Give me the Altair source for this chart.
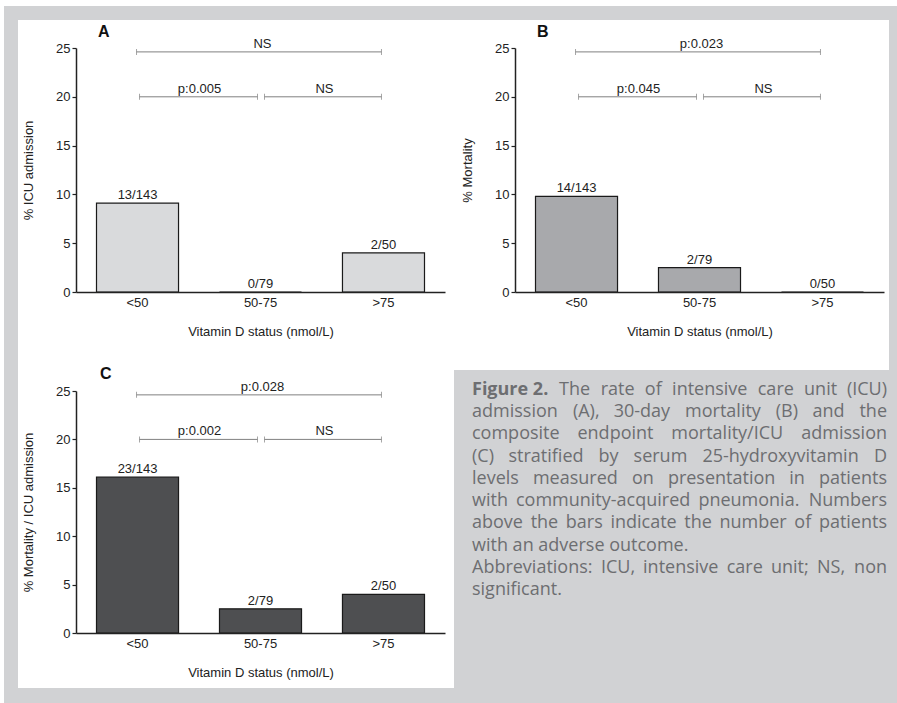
import altair as alt
import pandas as pd

# ---------------- data ----------------
categories = ["<50", "50-75", ">75"]

icu_pct = [9.1, 0.0, 4.0]
icu_counts = ["13/143", "0/79", "2/50"]

mort_pct = [9.8, 2.5, 0.0]
mort_counts = ["14/143", "2/79", "0/50"]

comp_pct = [16.1, 2.5, 4.0]
comp_counts = ["23/143", "2/79", "2/50"]

bracket_from = ["<50", "<50", "50-75"]
bracket_to = [">75", "50-75", ">75"]
bracket_level = [24.6, 20.0, 20.0]
labels_a = ["NS", "p:0.005", "NS"]
labels_b = ["p:0.023", "p:0.045", "NS"]
labels_c = ["p:0.028", "p:0.002", "NS"]

caption_bold = "Figure 2."
caption_lines = [
    "The rate of intensive care unit (ICU)",
    "admission (A), 30-day mortality (B) and the",
    "composite endpoint mortality/ICU admission",
    "(C) stratified by serum 25-hydroxyvitamin D",
    "levels measured on presentation in patients",
    "with community-acquired pneumonia. Numbers",
    "above the bars indicate the number of patients",
    "with an adverse outcome.",
    "Abbreviations: ICU, intensive care unit; NS, non",
    "significant.",
]
caption_justified = [True, True, True, True, True, True, True, False, True, False]

# ---------------- style ----------------
FONT = "Liberation Sans"
INK = "#222222"
BRACKET = "#808080"
GRAY_BG = "#d1d2d4"
CAP_COLOR = "#6d6e71"
W, H_TOP, H_BOT = 369, 244, 242

# per-bracket pixel styling: start offset, end offset, text anchor, text dx
br_start_off = [-1, 2, 4]
br_end_off = [-2, -3, -2]
br_text_anchor = ["50-75", "<50", "50-75"]
br_text_dx = [2, 62, 64]

one = alt.Data(values=[{}])


def x_enc():
    return alt.X(
        "cat:N",
        sort=categories,
        scale=alt.Scale(domain=categories, paddingInner=0.333, paddingOuter=0.1667),
        axis=alt.Axis(
            title="Vitamin D status (nmol/L)",
            labelAngle=0,
            ticks=False,
            domainColor=INK,
            domainWidth=1.5,
            labelFontSize=13,
            labelColor=INK,
            labelPadding=4,
            titleFontSize=13,
            titleFontWeight="normal",
            titleColor=INK,
            titlePadding=16,
            grid=False,
            zindex=1,
        ),
    )


def y_enc(title):
    return alt.Y(
        "pct:Q",
        scale=alt.Scale(domain=[0, 25], nice=False),
        axis=alt.Axis(
            title=title,
            values=[0, 5, 10, 15, 20, 25],
            domainColor=INK,
            domainWidth=1.5,
            tickColor=INK,
            tickWidth=1.2,
            tickSize=4,
            labelFontSize=13,
            labelColor=INK,
            labelPadding=2,
            titleFontSize=13,
            titleFontWeight="normal",
            titleColor=INK,
            titlePadding=20,
            grid=False,
            zindex=1,
        ),
    )


def panel(pct, counts, fill, ytitle, letter, blabels, height, letter_xy, backdrop=None):
    df = pd.DataFrame({"cat": categories, "pct": pct, "n": counts})
    base = alt.Chart(df)
    layers = []
    if backdrop is not None:
        layers.extend(backdrop)
    bars = base.mark_bar(fill=fill, stroke="#1a1a1a", strokeWidth=1.2).encode(
        x=x_enc(), y=y_enc(ytitle)
    )
    layers.append(bars)
    vals = base.mark_text(
        dy=-4, baseline="alphabetic", fontSize=13, color=INK, font=FONT
    ).encode(x=alt.X("cat:N", sort=categories), y="pct:Q", text="n:N")
    layers.append(vals)
    for i in range(3):
        bdf = pd.DataFrame(
            {
                "cat": [bracket_from[i]],
                "to": [bracket_to[i]],
                "pct": [bracket_level[i]],
                "lab": [blabels[i]],
                "anchor": [br_text_anchor[i]],
            }
        )
        bb = alt.Chart(bdf)
        layers.append(
            bb.mark_rule(
                color=BRACKET, strokeWidth=1, xOffset=br_start_off[i], x2Offset=br_end_off[i]
            ).encode(
                x=alt.X("cat:N", bandPosition=0.5),
                x2=alt.X2("to:N", bandPosition=0.5),
                y="pct:Q",
            )
        )
        layers.append(
            bb.mark_tick(
                orient="vertical", size=6, thickness=1, color=BRACKET, xOffset=br_start_off[i]
            ).encode(x="cat:N", y="pct:Q")
        )
        layers.append(
            bb.mark_tick(
                orient="vertical", size=6, thickness=1, color=BRACKET, xOffset=br_end_off[i]
            ).encode(x="to:N", y="pct:Q")
        )
        layers.append(
            bb.mark_text(
                dy=-4, dx=br_text_dx[i], baseline="alphabetic", fontSize=13, color=INK, font=FONT
            ).encode(x="anchor:N", y="pct:Q", text="lab:N")
        )
    ldf = pd.DataFrame({"t": [letter]})
    layers.append(
        alt.Chart(ldf)
        .mark_text(
            align="left", baseline="alphabetic", fontSize=16, fontWeight="bold", color="#111", font=FONT
        )
        .encode(x=alt.value(letter_xy[0]), y=alt.value(letter_xy[1]), text="t:N")
    )
    return alt.layer(*layers).properties(width=W, height=height)


# decorative backdrop (pixel positions relative to panel A plot origin at (76, 48))
def rect(x, x2, y, y2, color):
    return (
        alt.Chart(one)
        .mark_rect(color=color)
        .encode(x=alt.value(x), x2=alt.value(x2), y=alt.value(y), y2=alt.value(y2))
    )


backdrop = [
    rect(-76, 821, -48, 655, "white"),
    rect(-72, 821, -42, 655, GRAY_BG),
    rect(-58, 813, -28, 322, "white"),
    rect(-58, 378, 321, 640, "white"),
]

pA = panel(icu_pct, icu_counts, "#d9dadc", "% ICU admission", "A", labels_a, H_TOP, (22, -11), backdrop)
pB = panel(mort_pct, mort_counts, "#a8a9ac", "% Mortality", "B", labels_b, H_TOP, (22, -11))
pC = panel(comp_pct, comp_counts, "#4e4f51", "% Mortality / ICU admission", "C", labels_c, H_BOT, (24, -12))

# ---------------- caption (justified text block) ----------------
CAP_FS = 18
CAP_W = 415
FIRST_INDENT = 87
# approximate Open Sans advance widths (em)
_adv = {
    " ": .26, "a": .556, "b": .613, "c": .476, "d": .613, "e": .561, "f": .339, "g": .548,
    "h": .614, "i": .253, "j": .253, "k": .525, "l": .253, "m": .930, "n": .614, "o": .604,
    "p": .613, "q": .613, "r": .408, "s": .477, "t": .353, "u": .614, "v": .501, "w": .778,
    "x": .524, "y": .502, "z": .477, "A": .633, "B": .648, "C": .631, "D": .729, "I": .279,
    "N": .807, "S": .547, "U": .728, ".": .266, ",": .244, "-": .322, ":": .266, ";": .266,
    "(": .282, ")": .282, "/": .367,
}


def text_w(s):
    return sum(_adv.get(ch, .572) for ch in s) * CAP_FS


rows_left, rows_right = [], []
for li, (line, just) in enumerate(zip(caption_lines, caption_justified)):
    start = FIRST_INDENT if li == 0 else 0
    words = line.split(" ")
    if not just or len(words) < 2:
        rows_left.append({"i": li, "x": start, "w": line})
        continue
    widths = [text_w(w) for w in words]
    gap = (CAP_W - start - sum(widths)) / (len(words) - 1)
    pos = start
    for wi, (w, ww) in enumerate(zip(words, widths)):
        if wi == len(words) - 1:
            rows_right.append({"i": li, "x": CAP_W, "w": w})
        else:
            rows_left.append({"i": li, "x": pos, "w": w})
        pos += ww + gap

CAP_X = -43  # caption column origin is at x=515; text block starts at 472
cap_x_scale = alt.Scale(domain=[0, CAP_W], range=[CAP_X, CAP_X + CAP_W])
cap_y = alt.Y("i:Q", axis=None, scale=alt.Scale(domain=[0, 9], range=[4, 204]))
cap_x = alt.X("x:Q", axis=None, scale=cap_x_scale)

cap_left = (
    alt.Chart(pd.DataFrame(rows_left))
    .mark_text(align="left", baseline="alphabetic", fontSize=CAP_FS, color=CAP_COLOR, font="Open Sans")
    .encode(x=cap_x, y=cap_y, text="w:N")
)
cap_right = (
    alt.Chart(pd.DataFrame(rows_right))
    .mark_text(align="right", baseline="alphabetic", fontSize=CAP_FS, color=CAP_COLOR, font="Open Sans")
    .encode(x=cap_x, y=cap_y, text="w:N")
)
bold_df = pd.DataFrame({"i": [0], "x": [0], "w": [caption_bold]})
cap_bold = (
    alt.Chart(bold_df)
    .mark_text(
        align="left", baseline="alphabetic", fontSize=CAP_FS, fontWeight="bold", color=CAP_COLOR, font="Open Sans"
    )
    .encode(x=cap_x, y=cap_y, text="w:N")
)
caption = alt.layer(cap_bold, cap_left, cap_right).properties(width=W, height=H_BOT)

chart = (
    alt.concat(pA, pB, pC, caption, columns=2, spacing={"row": 99, "column": 70}, bounds="flush")
    .properties(padding=0, background="white")
    .configure(font=FONT)
    .configure_view(strokeWidth=0)
)

chart.save("out.html", embed_options={"renderer": "svg", "actions": False})
